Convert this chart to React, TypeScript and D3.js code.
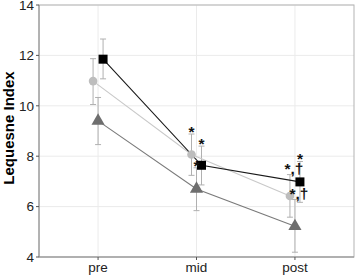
import React from "react";
import * as d3 from "d3";

const times = ["pre", "mid", "post"];
const yTicks = [4, 6, 8, 10, 12, 14];

// series: circle (light grey), triangle (dark grey), square (black)
const circleMean = [10.98, 8.07, 6.42];
const circleLo = [10.05, 7.24, 5.58];
const circleHi = [11.87, 8.88, 7.27];
const circleLabels = ["", "*", "*,†"];

const triMean = [9.4, 6.7, 5.22];
const triLo = [8.46, 5.84, 4.19];
const triHi = [10.33, 7.54, 6.28];
const triLabels = ["", "*", "*,†"];

const sqMean = [11.85, 7.64, 6.98];
const sqLo = [11.07, 6.86, 6.17];
const sqHi = [12.65, 8.4, 7.79];
const sqLabels = ["", "*", "*"];

const W = 358, H = 277;
const m = { left: 39, right: 4, top: 5, bottom: 20 };

export default function App() {
  const x = d3.scalePoint<string>().domain(times).range([m.left, W - m.right]).padding(0.6);
  const y = d3.scaleLinear().domain([4, 14]).range([H - m.bottom, m.top]);

  const series = [
    { key: "circle", mean: circleMean, lo: circleLo, hi: circleHi, labels: circleLabels, dx: -5, line: "#c9c9c9", fill: "#bdbdbd" },
    { key: "tri", mean: triMean, lo: triLo, hi: triHi, labels: triLabels, dx: 0, line: "#7a7a7a", fill: "#6e6e6e" },
    { key: "sq", mean: sqMean, lo: sqLo, hi: sqHi, labels: sqLabels, dx: 5, line: "#1a1a1a", fill: "#000000" },
  ];

  const px = (i: number, dx: number) => (x(times[i]) as number) + dx;
  const font = "'Liberation Sans', Arial, sans-serif";

  return (
    <svg width={W} height={H} style={{ position: "absolute", left: 0, top: 0, fontFamily: font }}>
      <rect x={0} y={0} width={W} height={H} fill="#fff" />
      {yTicks.map((t) => (
        <line key={"gy" + t} x1={m.left} x2={W - m.right} y1={y(t)} y2={y(t)} stroke="#ebebeb" strokeWidth={1} />
      ))}
      {times.map((t) => (
        <line key={"gx" + t} x1={x(t)} x2={x(t)} y1={m.top} y2={H - m.bottom} stroke="#ebebeb" strokeWidth={1} />
      ))}
      <rect x={m.left} y={m.top} width={W - m.right - m.left} height={H - m.bottom - m.top} fill="none" stroke="#b3b3b3" strokeWidth={1} />
      <line x1={m.left} x2={m.left} y1={m.top} y2={H - m.bottom} stroke="#8c8c8c" />
      <line x1={m.left} x2={W - m.right} y1={H - m.bottom} y2={H - m.bottom} stroke="#8c8c8c" />
      {yTicks.map((t) => (
        <g key={"yt" + t}>
          <line x1={m.left - 3} x2={m.left} y1={y(t)} y2={y(t)} stroke="#555" />
          <text x={m.left - 5} y={y(t)} dy="0.36em" textAnchor="end" fontSize={13.5} fill="#222">{t}</text>
        </g>
      ))}
      {times.map((t) => (
        <g key={"xt" + t}>
          <line x1={x(t)} x2={x(t)} y1={H - m.bottom} y2={H - m.bottom + 3} stroke="#555" />
          <text x={x(t)} y={H - m.bottom + 15} textAnchor="middle" fontSize={13.5} fill="#222">{t}</text>
        </g>
      ))}
      <text transform={`translate(14,128) rotate(-90)`} textAnchor="middle" fontSize={15} fontWeight="bold" fill="#000">Lequesne Index</text>
      {series.map((s) =>
        s.mean.map((_, i) => {
          const cx = px(i, s.dx);
          return (
            <g key={s.key + "e" + i} stroke="#b0b0b0" strokeWidth={1}>
              <line x1={cx} x2={cx} y1={y(s.lo[i])} y2={y(s.hi[i])} />
              <line x1={cx - 3} x2={cx + 3} y1={y(s.lo[i])} y2={y(s.lo[i])} />
              <line x1={cx - 3} x2={cx + 3} y1={y(s.hi[i])} y2={y(s.hi[i])} />
            </g>
          );
        })
      )}
      {series.map((s) => (
        <path key={s.key + "l"} d={d3.line<number>().x((_, i) => px(i, s.dx)).y((v) => y(v))(s.mean) || ""} fill="none" stroke={s.line} strokeWidth={1.1} />
      ))}
      {series.map((s) =>
        s.mean.map((v, i) => {
          const cx = px(i, s.dx), cy = y(v);
          if (s.key === "circle") return <circle key={s.key + "p" + i} cx={cx} cy={cy} r={4.3} fill={s.fill} />;
          if (s.key === "sq") return <rect key={s.key + "p" + i} x={cx - 4.5} y={cy - 4.5} width={9} height={9} fill={s.fill} />;
          const tri = d3.symbol(d3.symbolTriangle, 75)() || "";
          return <path key={s.key + "p" + i} d={tri} transform={`translate(${cx},${cy})`} fill={s.fill} />;
        })
      )}
      {series.map((s) =>
        s.labels.map((lb, i) =>
          lb ? (
            <text key={s.key + "t" + i} x={px(i, s.dx) + (lb.length > 1 ? 4 : 0)} y={y(s.hi[i]) + (lb.length > 1 ? -0.5 : 3)} textAnchor="middle" fontSize={15.5} fontWeight="bold" fill="#111">{lb}</text>
          ) : null
        )
      )}
    </svg>
  );
}
